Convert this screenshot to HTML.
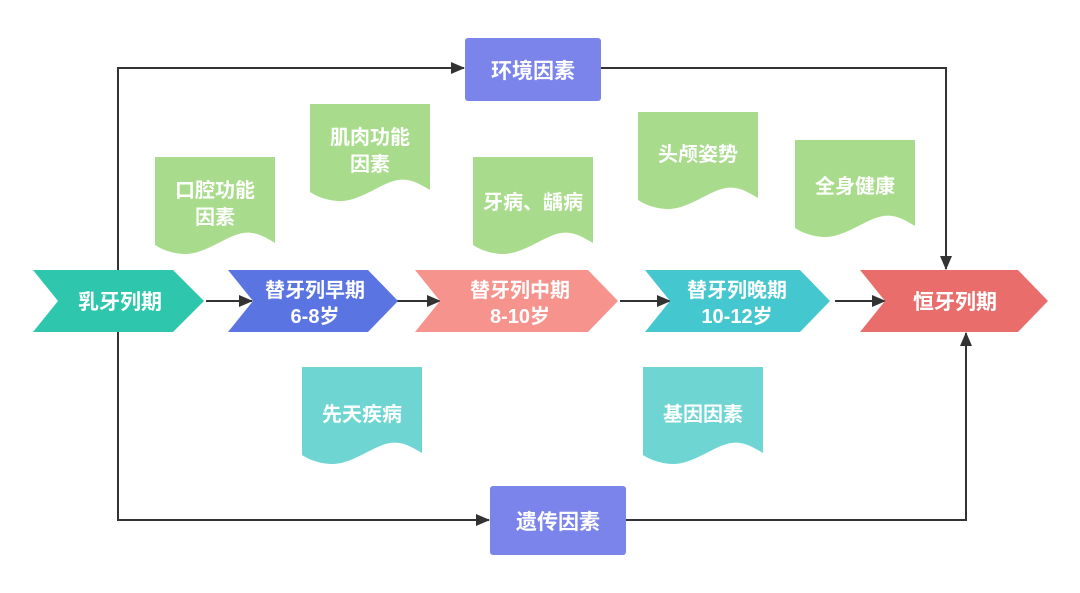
<!DOCTYPE html>
<html><head><meta charset="utf-8"><style>
html,body{margin:0;padding:0;background:#fff;}
svg text{font-family:"Liberation Sans","Noto Sans CJK SC",sans-serif;font-weight:bold;fill:#fff;text-anchor:middle;}
</style></head><body>
<svg width="1080" height="588" viewBox="0 0 1080 588" xmlns="http://www.w3.org/2000/svg">
<defs>
<marker id="ar" markerWidth="14" markerHeight="12" refX="13" refY="6" orient="auto" markerUnits="userSpaceOnUse">
<path d="M0,0 L14,6 L0,12 Z" fill="#333"/></marker>
<path id="doc" d="M0,0 H120 V86 C110,80 100,74 88,76 C70,79 50,98 28,97 C15,96 6,92 0,88 Z"/>
</defs>
<g stroke="#333" stroke-width="2" fill="none">
<polyline points="118,270 118,68 464,68" marker-end="url(#ar)"/>
<polyline points="601,68 946,68 946,269" marker-end="url(#ar)"/>
<polyline points="118,332 118,520 489,520" marker-end="url(#ar)"/>
<polyline points="626,520 966,520 966,333" marker-end="url(#ar)"/>
<line x1="206" y1="301" x2="252" y2="301" marker-end="url(#ar)"/>
<line x1="388" y1="301" x2="440" y2="301" marker-end="url(#ar)"/>
<line x1="620" y1="301" x2="670" y2="301" marker-end="url(#ar)"/>
<line x1="835" y1="301" x2="885" y2="301" marker-end="url(#ar)"/>
</g>
<polygon points="33,270 173,270 204,301 173,332 33,332 58,301" fill="#2ec7ad"/>
<polygon points="228,270 368,270 398,301 368,332 228,332 253,301" fill="#5a74e2"/>
<polygon points="415,270 588,270 618,301 588,332 415,332 440,301" fill="#f7938d"/>
<polygon points="645,270 800,270 830,301 800,332 645,332 670,301" fill="#44c7cf"/>
<polygon points="860,270 1018,270 1048,301 1018,332 860,332 885,301" fill="#e96e6b"/>
<text x="120" y="309" font-size="21">乳牙列期</text>
<text x="315" y="297" font-size="20">替牙列早期</text>
<text x="315" y="323" font-size="20">6-8岁</text>
<text x="520" y="297" font-size="20">替牙列中期</text>
<text x="520" y="323" font-size="20">8-10岁</text>
<text x="737" y="297" font-size="20">替牙列晚期</text>
<text x="737" y="323" font-size="20">10-12岁</text>
<text x="955" y="309" font-size="21">恒牙列期</text>
<rect x="465" y="38" width="136" height="63" rx="3" fill="#7a84ea"/>
<text x="533" y="78" font-size="21">环境因素</text>
<rect x="490" y="486" width="136" height="69" rx="3" fill="#7a84ea"/>
<text x="558" y="529" font-size="21">遗传因素</text>
<g fill="#a8dc8c">
<use href="#doc" x="155" y="157"/>
<use href="#doc" x="310" y="104"/>
<use href="#doc" x="473" y="157"/>
<use href="#doc" x="638" y="112"/>
<use href="#doc" x="795" y="140"/>
</g>
<g fill="#6fd5d2">
<use href="#doc" x="302" y="367"/>
<use href="#doc" x="643" y="367"/>
</g>
<text x="215" y="197" font-size="20">口腔功能</text>
<text x="215" y="224" font-size="20">因素</text>
<text x="370" y="144" font-size="20">肌肉功能</text>
<text x="370" y="171" font-size="20">因素</text>
<text x="533" y="209" font-size="20">牙病、龋病</text>
<text x="698" y="161" font-size="20">头颅姿势</text>
<text x="855" y="193" font-size="20">全身健康</text>
<text x="362" y="421" font-size="20">先天疾病</text>
<text x="703" y="421" font-size="20">基因因素</text>
</svg>
</body></html>
